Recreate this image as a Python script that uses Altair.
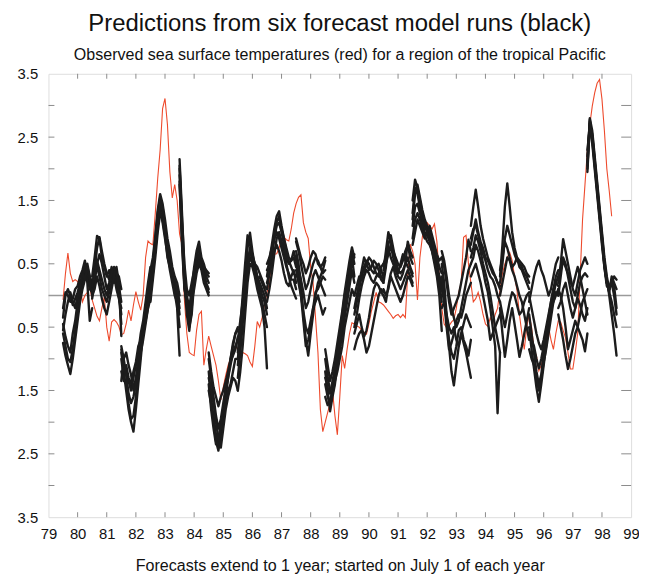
import altair as alt
import pandas as pd

title_text = "Predictions from six forecast model runs (black)"
subtitle_text = "Observed sea surface temperatures (red) for a region of the tropical Pacific"
x_title = "Forecasts extend to 1 year; started on July 1 of each year"

x_labels = list(range(79, 100))
x_minor = list(range(80, 99))
y_labels = [-3.5, -2.5, -1.5, -0.5, 0.5, 1.5, 2.5, 3.5]
y_minor = [-3.0, -2.5, -2.0, -1.5, -1.0, -0.5, 0.5, 1.0, 1.5, 2.0, 2.5, 3.0]

# observed monthly SST anomaly, starting July 1979
obs_start = 79.5
obs = [
    -0.07, 0.35, 0.67, 0.35, 0.22, 0.25, 0.22, 0.15, -0.1, 0.0, 0.05, 0.14,
    -0.07, -0.2, -0.33, -0.4, -0.2, -0.02, -0.5, -0.72, -0.42, -0.38, -0.42, -0.49,
    -0.62, -0.6, -0.45, -0.23, -0.4, -0.15, 0.06, -0.1, -0.23, 0.0, 0.6, 0.86,
    0.82, 0.8, 1.3, 1.85, 2.3, 2.95, 3.11, 2.7, 1.95, 1.54, 1.75, 1.5,
    0.97, 0.8, -0.07, -0.6, -0.9, -0.93, -0.95, -0.55, -0.3, -0.25, -1.1, -0.85,
    -0.64, -0.8, -0.95, -1.1, -1.35, -1.65, -1.45, -1.26, -1.1, -1.0, -0.9, -0.8,
    -0.85, -0.95, -0.9, -0.92, -0.95, -1.05, -1.12, -0.8, -0.41, -0.5, -0.35, -0.15,
    0.05, 0.2, 0.55, 0.65, 0.66, 0.75, 0.9, 0.92, 0.88, 0.86, 1.05, 1.3,
    1.45, 1.55, 1.59, 1.15, 1.0, 0.9, 0.45, 0.2, -0.35, -0.9, -1.8, -2.15,
    -2.0, -1.85, -1.7, -1.5, -1.9, -2.2, -1.6, -0.95, -1.15, -0.85, -0.6, -0.43,
    -0.45, -0.48, -0.5, -0.55, -0.58, -0.61, -0.45, -0.25, -0.1, 0.05, -0.1, -0.12,
    -0.15, -0.2, -0.25, -0.3, -0.36, -0.32, -0.3, -0.35, -0.3, -0.35, 0.35, 0.81,
    0.7, 0.5, -0.07, 0.6, 0.92, 1.1, 1.15, 1.1, 1.05, 1.13, 0.85, 0.3,
    -0.2, -0.45, -0.51, -0.48, -0.42, -0.38, -0.2, 0.05, 0.2, 0.92, 0.95, 0.5,
    0.2, -0.1, -0.05, 0.05, -0.1, -0.3, -0.45, -0.49, -0.35, -0.45, -0.3, -0.2,
    0.1, 0.35, 0.5, 0.6, 0.68, 0.55, 0.3, 0.08, -0.3, -0.6, -0.85, -0.5,
    -0.3, -0.5, -0.85, -0.95, -1.19, -1.1, -0.95, -0.7, -0.5, -0.7, -0.85, -0.6,
    -0.4, -0.42, -0.55, -0.67, -0.9, -1.16, -1.16, -0.9, -0.6, 0.3, 1.2, 1.75,
    2.3, 2.7, 2.99, 3.2, 3.35, 3.41, 3.1, 2.6, 2.0, 1.65, 1.25,
]

# six forecast runs per start year, monthly from July 1 for one year
fc79 = [
    [-0.75, -0.95, -1.1, -1.24, -1.0, -0.7, -0.4, -0.1, 0.1, 0.25, 0.35, 0.2, 0.15],
    [-0.6, -0.8, -1.0, -1.05, -0.85, -0.55, -0.3, 0.0, 0.2, 0.4, 0.3, 0.1, 0.05],
    [-0.45, -0.65, -0.8, -0.9, -0.6, -0.4, -0.1, 0.1, 0.3, 0.45, 0.5, 0.3, 0.2],
    [-0.2, 0.05, 0.0, -0.1, -0.05, 0.1, 0.15, 0.3, 0.4, 0.55, 0.35, 0.2, 0.1],
    [-0.35, 0.0, 0.1, 0.0, -0.15, -0.05, 0.05, 0.2, 0.3, 0.5, 0.2, -0.4, -0.2],
    [-0.55, -0.3, -0.1, 0.05, -0.1, -0.2, 0.0, 0.15, 0.35, 0.25, 0.45, 0.3, 0.0],
]
fc80 = [
    [0.3, 0.6, 0.94, 0.9, 0.6, 0.45, 0.3, 0.4, 0.3, 0.2, 0.35, 0.3, 0.1],
    [0.1, 0.4, 0.75, 0.92, 0.7, 0.5, 0.35, 0.25, 0.45, 0.3, 0.1, -0.05, -0.2],
    [-0.05, 0.2, 0.5, 0.65, 0.5, 0.3, 0.1, 0.2, 0.4, 0.35, 0.25, 0.0, -0.3],
    [0.2, 0.35, 0.45, 0.3, 0.1, 0.0, -0.1, 0.05, 0.2, 0.4, 0.3, 0.15, -0.1],
    [0.0, 0.1, 0.3, 0.15, -0.05, -0.2, -0.3, -0.1, 0.1, 0.3, 0.45, 0.2, -0.64],
    [0.15, 0.3, 0.55, 0.4, 0.25, 0.1, 0.0, 0.15, 0.35, 0.45, 0.4, 0.05, -0.45],
]
fc81 = [
    [-0.9, -1.2, -1.5, -1.8, -2.0, -2.15, -1.8, -1.4, -1.0, -0.6, -0.3, 0.0, 0.3],
    [-1.0, -1.3, -1.4, -1.7, -1.95, -1.9, -1.6, -1.2, -0.8, -0.5, -0.2, 0.1, 0.4],
    [-0.85, -1.1, -1.2, -1.35, -1.5, -1.3, -1.1, -0.9, -0.6, -0.4, -0.1, 0.2, 0.45],
    [-1.2, -1.35, -1.1, -1.3, -1.4, -1.2, -1.05, -0.8, -0.7, -0.5, -0.3, -0.1, 0.1],
    [-1.35, -1.0, -0.9, -1.1, -1.25, -1.5, -1.3, -1.0, -0.85, -0.6, -0.4, -0.2, -0.05],
    [-0.8, -1.0, -1.25, -1.55, -1.7, -1.6, -1.4, -1.25, -0.9, -0.7, -0.45, -0.2, 0.2],
]
fc82 = [
    [0.2, 0.5, 0.9, 1.3, 1.55, 1.4, 1.1, 0.8, 0.6, 0.4, 0.2, 0.1, -0.1],
    [0.0, 0.35, 0.8, 1.2, 1.45, 1.3, 1.0, 0.75, 0.5, 0.3, 0.15, 0.0, -0.3],
    [-0.1, 0.25, 0.6, 1.0, 1.3, 1.2, 0.95, 0.6, 0.45, 0.3, 0.05, -0.2, -0.95],
    [0.4, 0.6, 0.95, 1.35, 1.6, 1.45, 1.2, 0.9, 0.7, 0.45, 0.3, 0.2, 0.0],
    [0.3, 0.45, 0.7, 1.1, 1.35, 1.15, 0.9, 0.65, 0.4, 0.2, 0.0, -0.1, -0.5],
    [0.1, 0.4, 0.75, 1.15, 1.5, 1.35, 1.05, 0.85, 0.55, 0.35, 0.25, 0.05, -0.2],
]
fc83 = [
    [2.15, 1.3, 0.4, -0.2, -0.5, -0.3, 0.2, 0.6, 0.75, 0.55, 0.4, 0.3, 0.2],
    [2.0, 1.1, 0.2, -0.3, -0.56, -0.2, 0.3, 0.5, 0.6, 0.45, 0.35, 0.2, 0.1],
    [1.9, 1.0, 0.3, 0.0, -0.2, 0.1, 0.45, 0.7, 0.85, 0.6, 0.5, 0.35, 0.3],
    [1.8, 0.8, 0.1, -0.1, -0.4, -0.1, 0.1, 0.35, 0.5, 0.4, 0.2, 0.1, 0.0],
    [2.05, 1.2, 0.5, 0.1, 0.0, 0.2, 0.4, 0.55, 0.65, 0.5, 0.45, 0.4, 0.35],
    [1.75, 0.9, 0.15, -0.15, -0.3, 0.0, 0.25, 0.4, 0.55, 0.45, 0.3, 0.15, 0.05],
]
fc84 = [
    [-1.2, -1.6, -2.0, -2.3, -2.45, -2.2, -1.9, -1.6, -1.3, -1.0, -0.8, -0.6, -0.5],
    [-1.4, -1.8, -2.1, -2.35, -2.3, -2.0, -1.8, -1.5, -1.3, -1.1, -0.9, -0.8, -0.7],
    [-1.0, -1.3, -1.6, -1.9, -2.1, -1.95, -1.7, -1.45, -1.2, -1.05, -0.95, -0.85, -0.65],
    [-1.5, -1.7, -1.9, -2.2, -2.35, -2.1, -1.85, -1.7, -1.5, -1.4, -1.2, -1.0, -1.0],
    [-0.9, -1.2, -1.45, -1.6, -1.75, -1.6, -1.5, -1.35, -1.2, -1.0, -0.75, -0.6, -0.55],
    [-1.3, -1.5, -1.7, -2.0, -2.25, -2.4, -2.1, -1.8, -1.6, -1.45, -1.3, -1.35, -1.5],
]
fc85 = [
    [-0.9, -0.5, 0.0, 0.5, 0.95, 0.8, 0.6, 0.5, 0.3, 0.2, 0.1, 0.0, -0.2],
    [-1.1, -0.7, -0.2, 0.3, 0.75, 0.99, 0.7, 0.45, 0.3, 0.15, 0.0, -0.1, -0.3],
    [-1.3, -0.9, -0.45, 0.0, 0.45, 0.6, 0.5, 0.35, 0.2, 0.05, -0.1, -0.3, -0.5],
    [-0.7, -0.4, -0.1, 0.25, 0.6, 0.7, 0.55, 0.4, 0.25, 0.3, 0.2, 0.1, 0.0],
    [-1.5, -1.2, -0.8, -0.3, 0.2, 0.5, 0.45, 0.3, 0.1, -0.05, -0.2, -0.5, -1.15],
    [-1.0, -0.6, -0.3, 0.1, 0.4, 0.75, 0.65, 0.5, 0.45, 0.35, 0.25, 0.15, 0.1],
]
fc86 = [
    [0.3, 0.55, 0.8, 1.05, 1.25, 1.33, 1.1, 0.9, 0.75, 0.6, 0.55, 0.6, 0.45],
    [0.1, 0.35, 0.6, 0.9, 1.15, 1.25, 1.05, 0.9, 0.7, 0.55, 0.45, 0.35, 0.3],
    [0.5, 0.6, 0.75, 0.9, 1.0, 0.9, 0.75, 0.6, 0.45, 0.35, 0.25, 0.25, 0.1],
    [-0.1, 0.1, 0.35, 0.65, 0.9, 1.0, 0.85, 0.7, 0.5, 0.3, 0.15, 0.05, -0.05],
    [0.2, 0.35, 0.5, 0.7, 0.8, 0.7, 0.55, 0.35, 0.2, 0.15, 0.3, 0.4, 0.2],
    [0.4, 0.5, 0.7, 0.9, 1.1, 1.15, 1.0, 0.8, 0.6, 0.5, 0.55, 0.7, 0.55],
]
fc87 = [
    [0.7, 0.5, 0.2, -0.3, -0.7, -0.95, -0.6, -0.3, 0.0, 0.2, 0.3, 0.4, 0.55],
    [0.5, 0.3, 0.0, -0.4, -0.8, -0.7, -0.5, -0.2, 0.05, 0.1, 0.2, 0.3, 0.25],
    [0.85, 0.7, 0.5, 0.3, 0.1, 0.2, 0.35, 0.5, 0.6, 0.55, 0.45, 0.5, 0.6],
    [0.6, 0.4, 0.25, 0.05, -0.2, -0.1, 0.1, 0.3, 0.4, 0.3, 0.2, 0.1, 0.0],
    [0.4, 0.2, 0.0, -0.25, -0.5, -0.6, -0.4, -0.2, -0.1, 0.0, -0.15, -0.3, -0.2],
    [0.9, 0.75, 0.6, 0.5, 0.35, 0.45, 0.6, 0.7, 0.65, 0.5, 0.45, 0.35, 0.4],
]
fc88 = [
    [-1.2, -1.5, -1.83, -1.6, -1.4, -1.1, -0.8, -0.5, -0.2, 0.1, 0.4, 0.7, 0.5],
    [-1.0, -1.3, -1.5, -1.45, -1.2, -0.9, -0.6, -0.3, 0.0, 0.2, 0.45, 0.6, 0.3],
    [-1.6, -1.73, -1.65, -1.5, -1.3, -1.05, -0.85, -0.6, -0.35, -0.1, 0.15, 0.4, 0.2],
    [-0.85, -1.1, -1.35, -1.2, -1.0, -0.75, -0.5, -0.25, 0.05, 0.3, 0.55, 0.76, 0.6],
    [-1.4, -1.6, -1.7, -1.55, -1.35, -1.2, -1.0, -0.8, -0.5, -0.3, -0.1, 0.1, 0.0],
    [-1.3, -1.45, -1.55, -1.35, -1.15, -0.95, -0.7, -0.45, -0.15, 0.05, 0.3, 0.5, 0.65],
]
fc89 = [
    [-0.3, -0.1, 0.1, 0.3, 0.45, 0.55, 0.5, 0.4, 0.35, 0.45, 0.5, 0.4, 0.3],
    [-0.5, -0.3, -0.05, 0.15, 0.3, 0.4, 0.35, 0.25, 0.2, 0.3, 0.35, 0.25, 0.2],
    [-0.85, -0.7, -0.6, -0.55, -0.7, -0.9, -0.8, -0.6, -0.4, -0.2, 0.0, 0.1, 0.05],
    [-0.2, 0.0, 0.2, 0.4, 0.6, 0.5, 0.4, 0.45, 0.55, 0.5, 0.4, 0.3, 0.25],
    [-0.6, -0.45, -0.3, -0.5, -0.65, -0.55, -0.35, -0.1, 0.1, 0.2, 0.15, 0.05, 0.0],
    [0.0, 0.15, 0.3, 0.25, 0.35, 0.5, 0.6, 0.55, 0.45, 0.35, 0.3, 0.45, 0.5],
]
fc90 = [
    [0.4, 0.7, 1.0, 0.85, 0.7, 0.6, 0.5, 0.45, 0.55, 0.7, 0.8, 0.6, 0.5],
    [0.2, 0.45, 0.8, 0.95, 0.75, 0.55, 0.4, 0.35, 0.4, 0.5, 0.6, 0.45, 0.35],
    [0.0, -0.1, 0.15, 0.35, 0.45, 0.3, 0.2, 0.1, 0.2, 0.3, 0.4, 0.3, 0.2],
    [0.5, 0.6, 0.75, 0.6, 0.5, 0.4, 0.3, 0.25, 0.35, 0.5, 0.85, 0.7, 0.6],
    [0.1, 0.0, 0.1, 0.3, 0.2, 0.1, 0.0, -0.1, 0.0, 0.15, 0.3, 0.25, 0.15],
    [0.3, 0.5, 0.65, 0.8, 0.6, 0.45, 0.35, 0.5, 0.65, 0.55, 0.45, 0.4, 0.3],
]
fc91 = [
    [1.5, 1.83, 1.7, 1.5, 1.3, 1.15, 1.05, 0.95, 0.85, 0.7, 0.5, 0.3, 0.1],
    [1.3, 1.7, 1.6, 1.4, 1.2, 1.1, 1.0, 0.9, 0.75, 0.6, 0.45, 0.2, -0.1],
    [1.1, 1.4, 1.45, 1.3, 1.15, 1.0, 0.95, 0.85, 0.7, 0.5, 0.3, 0.0, -0.56],
    [0.8, 1.0, 1.2, 1.1, 1.0, 0.9, 1.0, 1.1, 0.95, 0.8, 0.65, 0.55, 0.6],
    [1.2, 1.6, 1.75, 1.55, 1.35, 1.2, 1.1, 1.0, 0.85, 0.75, 0.6, 0.45, 0.35],
    [0.9, 1.2, 1.3, 1.2, 1.05, 0.95, 0.85, 0.8, 0.7, 0.55, 0.4, 0.3, 0.2],
]
fc92 = [
    [0.5, 0.2, -0.3, -0.8, -1.2, -1.42, -1.1, -0.8, -0.6, -0.75, -0.9, -1.1, -1.3],
    [0.3, 0.0, -0.4, -0.7, -0.9, -1.0, -0.8, -0.55, -0.5, -0.7, -0.8, -0.95, -0.7],
    [0.7, 0.55, 0.3, 0.0, -0.2, -0.35, -0.5, -0.4, -0.2, 0.0, 0.2, 0.4, 0.5],
    [-0.2, -0.1, -0.3, -0.5, -0.6, -0.5, -0.7, -0.8, -0.6, -0.45, -0.3, -0.4, -0.5],
    [0.6, 0.45, 0.2, -0.1, -0.3, -0.2, -0.1, 0.0, 0.2, 0.4, 0.6, 0.88, 0.7],
    [0.1, -0.1, -0.5, -0.85, -0.75, -0.6, -0.4, -0.3, -0.35, -0.2, 0.0, 0.1, 0.2],
]
fc93 = [
    [1.1, 1.4, 1.67, 1.4, 1.1, 0.9, 0.75, 0.6, 0.5, 0.4, 0.3, 0.2, 0.15],
    [0.8, 1.0, 1.2, 1.0, 0.85, 0.75, 0.6, 0.55, 0.45, 0.35, 0.3, 0.2, 0.1],
    [0.5, 0.6, 0.8, 0.7, 0.55, 0.4, 0.2, 0.05, -0.2, -0.5, -0.8, -1.86, -0.9],
    [0.3, 0.4, 0.5, 0.35, 0.2, 0.0, -0.2, -0.4, -0.7, -0.6, -0.5, -0.4, -0.3],
    [0.9, 1.05, 1.1, 0.95, 0.8, 0.65, 0.55, 0.4, 0.3, 0.25, 0.15, 0.0, -0.1],
    [0.6, 0.75, 0.95, 0.85, 0.7, 0.5, 0.35, 0.2, 0.0, -0.25, -0.5, -0.7, -0.9],
]
fc94 = [
    [0.3, 0.8, 1.4, 1.77, 1.4, 1.0, 0.75, 0.6, 0.45, 0.4, 0.3, 0.2, 0.1],
    [0.2, 0.5, 0.9, 1.1, 0.95, 0.8, 0.65, 0.55, 0.5, 0.45, 0.35, 0.3, 0.2],
    [-0.2, -0.6, -0.97, -0.7, -0.4, -0.2, -0.45, -0.7, -0.97, -0.8, -0.6, -0.4, -0.2],
    [0.0, 0.2, 0.4, 0.6, 0.55, 0.4, 0.3, 0.15, 0.0, -0.1, -0.3, -0.5, -0.7],
    [0.4, 0.6, 0.85, 0.75, 0.6, 0.45, 0.5, 0.6, 0.55, 0.5, 0.45, 0.35, 0.3],
    [-0.1, -0.3, -0.5, -0.3, -0.1, 0.05, 0.0, -0.15, -0.3, -0.25, -0.1, 0.0, 0.05],
]
fc95 = [
    [-0.5, -0.85, -1.15, -1.45, -1.68, -1.4, -1.1, -0.8, -0.5, -0.2, 0.0, 0.2, 0.3],
    [-0.3, -0.6, -0.9, -1.2, -1.4, -1.25, -0.9, -0.6, -0.35, -0.1, 0.1, 0.3, 0.4],
    [-0.85, -1.0, -1.1, -1.3, -1.5, -1.3, -1.05, -0.85, -0.6, -0.35, -0.1, 0.0, 0.1],
    [0.0, -0.2, -0.4, -0.6, -0.75, -0.85, -0.7, -0.5, -0.3, -0.1, 0.1, 0.2, 0.15],
    [-0.1, 0.1, 0.3, 0.45, 0.55, 0.4, 0.3, 0.15, 0.0, 0.1, 0.3, 0.5, 0.6],
    [-0.6, -0.7, -0.8, -1.0, -1.15, -1.0, -0.8, -0.55, -0.4, -0.2, -0.1, 0.05, 0.0],
]
fc96 = [
    [0.2, 0.5, 0.89, 0.7, 0.5, 0.3, 0.1, 0.0, 0.2, 0.4, 0.5, 0.6, 0.5],
    [0.0, 0.3, 0.6, 0.5, 0.3, 0.1, -0.1, -0.2, 0.0, 0.2, 0.3, 0.35, 0.3],
    [-0.3, -0.5, -0.7, -0.95, -1.16, -1.0, -0.8, -0.6, -0.5, -0.3, -0.1, 0.0, 0.1],
    [0.1, 0.0, -0.2, -0.5, -0.85, -0.7, -0.55, -0.4, -0.5, -0.6, -0.7, -0.88, -0.6],
    [0.3, 0.4, 0.55, 0.45, 0.35, 0.2, 0.15, 0.3, 0.45, 0.3, 0.1, -0.1, -0.3],
    [-0.2, -0.1, 0.1, 0.2, 0.0, -0.2, -0.35, -0.2, -0.05, -0.15, -0.3, -0.4, -0.2],
]
fc97 = [
    [2.0, 2.8, 2.6, 2.2, 1.8, 1.4, 1.0, 0.6, 0.3, 0.1, 0.2, 0.0, -0.3],
    [2.2, 2.75, 2.5, 2.1, 1.7, 1.3, 0.9, 0.5, 0.2, 0.05, 0.3, 0.2, 0.1],
    [1.95, 2.7, 2.55, 2.15, 1.75, 1.35, 0.95, 0.55, 0.25, 0.0, -0.3, -0.6, -0.95],
    [2.1, 2.78, 2.45, 2.05, 1.65, 1.25, 0.85, 0.45, 0.15, 0.1, 0.25, 0.15, -0.2],
    [2.3, 2.65, 2.4, 2.0, 1.6, 1.2, 0.8, 0.45, 0.2, 0.15, 0.2, 0.3, 0.25],
    [2.05, 2.72, 2.5, 2.1, 1.7, 1.3, 0.9, 0.5, 0.2, 0.05, -0.1, -0.3, -0.5],
]

forecasts = {
    79: fc79, 80: fc80, 81: fc81, 82: fc82, 83: fc83, 84: fc84, 85: fc85,
    86: fc86, 87: fc87, 88: fc88, 89: fc89, 90: fc90, 91: fc91, 92: fc92,
    93: fc93, 94: fc94, 95: fc95, 96: fc96, 97: fc97,
}

# ---- tables ----
obs_df = pd.DataFrame({"t": [obs_start + i / 12 for i in range(len(obs))], "v": obs})

rows = []
for yr, runs in forecasts.items():
    for r, vals in enumerate(runs):
        for k, v in enumerate(vals):
            rows.append({"t": yr + 0.5 + k / 12, "v": v, "run": f"{yr}-{r}", "k": k})
fc_df = pd.DataFrame(rows)

xminor_df = pd.DataFrame({"t": x_minor})
yminor_df = pd.DataFrame({"v": y_minor})
zero_df = pd.DataFrame({"v": [0.0]})

W, H = 590, 449
FONT = "Liberation Sans"
xs = alt.Scale(domain=[79, 99], nice=False, zero=False)
ys = alt.Scale(domain=[-3.5, 3.5], nice=False, zero=False)
TICK = "#8a8a8a"

y_label_expr = ("datum.value < 0 ? format(-datum.value, '.1f') + '\u00a0\u00a0' "
                ": format(datum.value, '.1f')")

x_axis = alt.Axis(
    values=x_labels, ticks=False, domain=False, grid=False,
    labelFlush=False, labelPadding=10, labelFontSize=15, labelFont=FONT,
    labelColor="#111", title=x_title, titleFontSize=16.25, titleFont=FONT,
    titleFontWeight="normal", titleColor="#111", titlePadding=16,
    format="d",
)
y_axis = alt.Axis(
    values=y_labels, ticks=False, domain=False, grid=False,
    labelPadding=11, labelFontSize=15, labelFont=FONT, labelColor="#111",
    labelExpr=y_label_expr, title=None, labelFlush=False,
)


def X():
    return alt.X("t:Q", scale=xs, axis=x_axis)


def Y():
    return alt.Y("v:Q", scale=ys, axis=y_axis)


zero_line = alt.Chart(zero_df).mark_rule(color="#9a9a9a", strokeWidth=1.5).encode(
    y=Y()
)

x_bottom = alt.Chart(xminor_df).mark_rule(color=TICK, strokeWidth=1).encode(
    x=X(), y=alt.value(H), y2=alt.value(H - 5)
)
x_top = alt.Chart(xminor_df).mark_rule(color=TICK, strokeWidth=1).encode(
    x=X(), y=alt.value(0), y2=alt.value(5)
)
y_left = alt.Chart(yminor_df).mark_rule(color=TICK, strokeWidth=1).encode(
    y=Y(), x=alt.value(0), x2=alt.value(6)
)
y_right = alt.Chart(yminor_df).mark_rule(color=TICK, strokeWidth=1).encode(
    y=Y(), x=alt.value(W), x2=alt.value(W - 10)
)

red = alt.Chart(obs_df).mark_line(color="#ee4a2c", strokeWidth=1.1).encode(
    x=X(), y=Y()
)

black = alt.Chart(fc_df).mark_line(
    color="#1c1c1c", strokeWidth=2.4, strokeJoin="round", strokeCap="round"
).encode(
    x=X(), y=Y(),
    detail="run:N",
    order="k:Q",
)

chart = alt.layer(zero_line, x_bottom, x_top, y_left, y_right, red, black).properties(
    width=W,
    height=H,
    title=alt.TitleParams(
        text=title_text, subtitle=subtitle_text, anchor="middle", frame="group",
        font=FONT, fontSize=24.2, fontWeight="normal", color="#111",
        subtitleFont=FONT, subtitleFontSize=16.25, subtitleColor="#111",
        offset=4, subtitlePadding=10.5,
    ),
    autosize=alt.AutoSizeParams(type="none"),
    padding={"left": 41, "top": 63, "right": 8, "bottom": 60},
).configure_view(stroke="#9a9a9a", strokeWidth=1.2).configure(background="white")

chart.save("out.html", embed_options={"renderer": "svg", "actions": False})
